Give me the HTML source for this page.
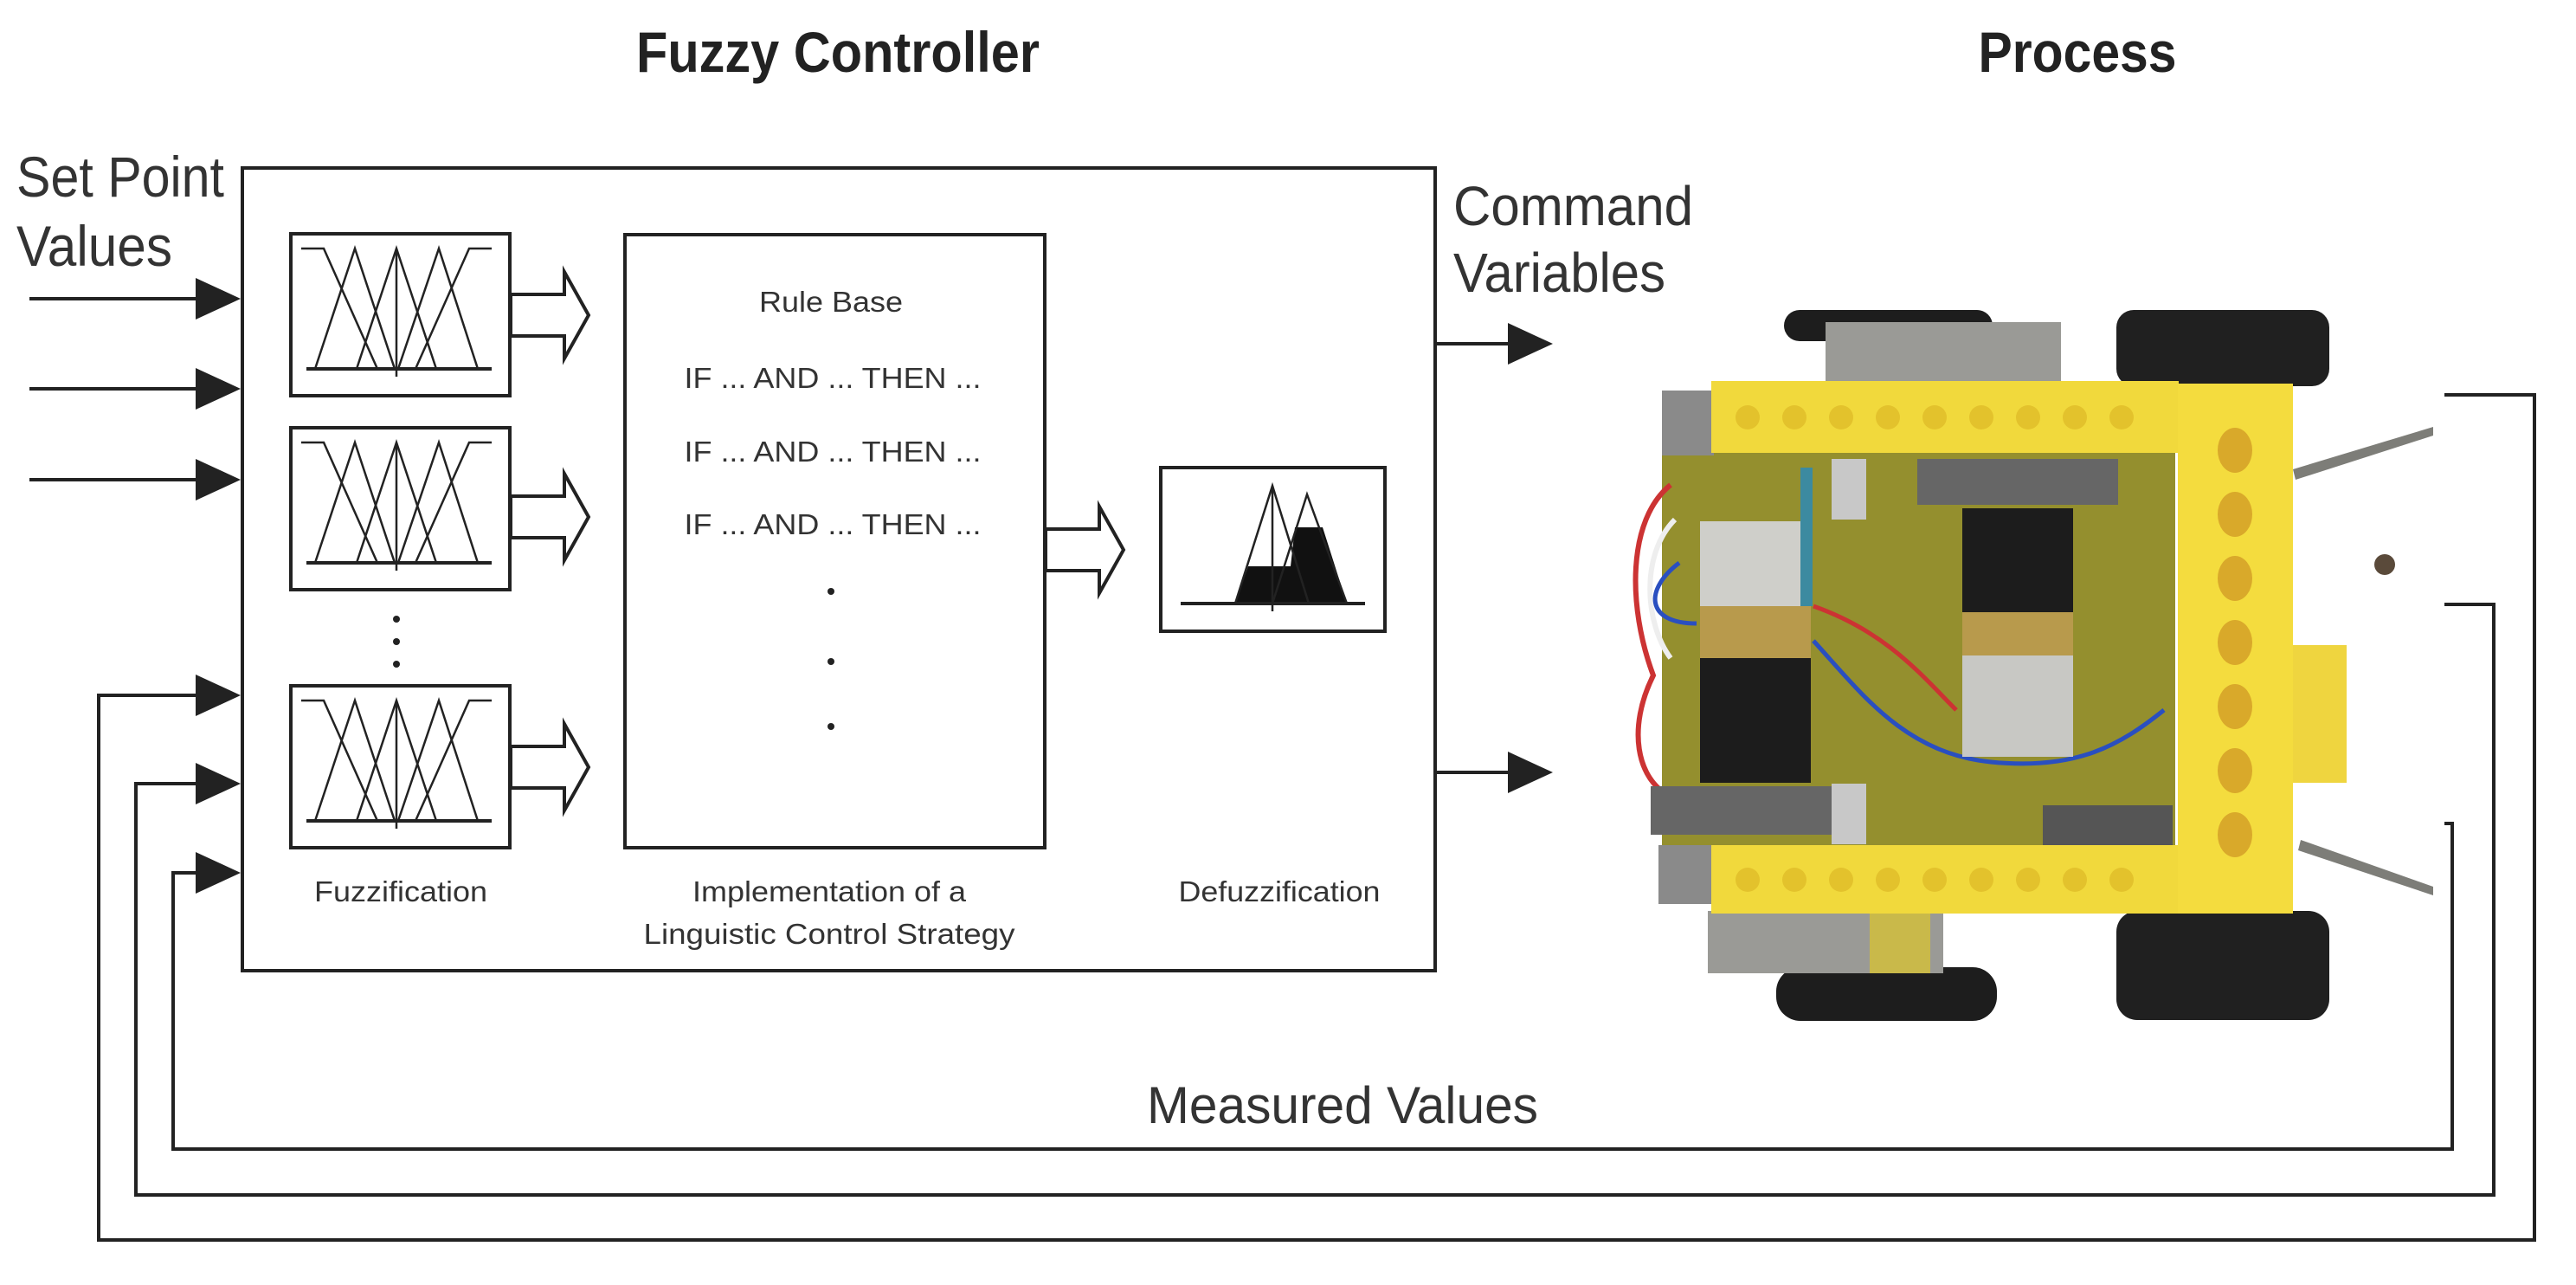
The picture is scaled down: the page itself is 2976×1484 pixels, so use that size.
<!DOCTYPE html>
<html><head><meta charset="utf-8"><style>html,body{margin:0;padding:0;background:#fff}svg{display:block}</style></head>
<body>
<svg width="2976" height="1484" viewBox="0 0 2976 1484" xmlns="http://www.w3.org/2000/svg" font-family="Liberation Sans, sans-serif">
<defs>
<g id="mf">
<rect x="0" y="0" width="253" height="187" fill="#fff" stroke="#222" stroke-width="4"/>
<g fill="none" stroke="#222" stroke-width="2.5">
<line x1="18" y1="156" x2="232" y2="156" stroke-width="4"/>
<polyline points="12,17 38,17 100,156"/>
<polyline points="28,156 74,17 120,156"/>
<polyline points="76,156 122,17 168,156"/>
<polyline points="124,156 171,17 216,156"/>
<polyline points="144,156 206,17 232,17"/>
<line x1="122" y1="17" x2="122" y2="165"/>
</g>
</g>
<g id="harrow"><polygon points="0,-24 62,-24 62,-50 90,0 62,50 62,24 0,24" fill="#fff" stroke="#222" stroke-width="4"/></g>
</defs>

<text x="968" y="83" font-size="66" font-weight="bold" text-anchor="middle" fill="#222" textLength="466" lengthAdjust="spacingAndGlyphs">Fuzzy Controller</text>
<text x="2400" y="83" font-size="66" font-weight="bold" text-anchor="middle" fill="#222" textLength="229" lengthAdjust="spacingAndGlyphs">Process</text>

<text x="19" y="227" font-size="66" fill="#333" textLength="240" lengthAdjust="spacingAndGlyphs">Set Point</text>
<text x="19" y="307" font-size="66" fill="#333" textLength="180" lengthAdjust="spacingAndGlyphs">Values</text>
<text x="1679" y="260" font-size="64" fill="#333" textLength="277" lengthAdjust="spacingAndGlyphs">Command</text>
<text x="1679" y="337" font-size="64" fill="#333" textLength="245" lengthAdjust="spacingAndGlyphs">Variables</text>

<rect x="280" y="194" width="1378" height="927" fill="none" stroke="#222" stroke-width="4"/>

<g stroke="#222" stroke-width="4" fill="#222">
<line x1="34" y1="345" x2="235" y2="345"/><polygon points="226,321 278,345 226,369" stroke="none"/>
<line x1="34" y1="449" x2="235" y2="449"/><polygon points="226,425 278,449 226,473" stroke="none"/>
<line x1="34" y1="554" x2="235" y2="554"/><polygon points="226,530 278,554 226,578" stroke="none"/>
<polyline points="240,803 114,803 114,1432 2928,1432 2928,456 2824,456" fill="none"/><polygon points="226,779 278,803 226,827" stroke="none"/>
<polyline points="240,905 157,905 157,1380 2881,1380 2881,698 2824,698" fill="none"/><polygon points="226,881 278,905 226,929" stroke="none"/>
<polyline points="240,1008 200,1008 200,1327 2833,1327 2833,951 2824,951" fill="none"/><polygon points="226,984 278,1008 226,1032" stroke="none"/>
<line x1="1658" y1="397" x2="1750" y2="397"/><polygon points="1742,373 1794,397 1742,421" stroke="none"/>
<line x1="1658" y1="892" x2="1750" y2="892"/><polygon points="1742,868 1794,892 1742,916" stroke="none"/>
</g>

<use href="#mf" x="336" y="270"/>
<use href="#mf" x="336" y="494"/>
<use href="#mf" x="336" y="792"/>
<g fill="#222"><circle cx="458" cy="715" r="4"/><circle cx="458" cy="741" r="4"/><circle cx="458" cy="767" r="4"/></g>

<use href="#harrow" x="590" y="364"/>
<use href="#harrow" x="590" y="597"/>
<use href="#harrow" x="590" y="886"/>
<use href="#harrow" x="1208" y="635"/>

<rect x="722" y="271" width="485" height="708" fill="#fff" stroke="#222" stroke-width="4"/>
<g fill="#333" font-size="33" text-anchor="middle">
<text x="960" y="360" textLength="166" lengthAdjust="spacingAndGlyphs">Rule Base</text>
<text x="962" y="448" textLength="343" lengthAdjust="spacingAndGlyphs">IF ... AND ... THEN ...</text>
<text x="962" y="533" textLength="343" lengthAdjust="spacingAndGlyphs">IF ... AND ... THEN ...</text>
<text x="962" y="617" textLength="343" lengthAdjust="spacingAndGlyphs">IF ... AND ... THEN ...</text>
</g>
<g fill="#222"><circle cx="960" cy="683" r="4"/><circle cx="960" cy="764" r="4"/><circle cx="960" cy="839" r="4"/></g>

<rect x="1341" y="540" width="259" height="189" fill="#fff" stroke="#222" stroke-width="4"/>
<polygon points="1427,697 1442,654 1491,654 1496,609 1528,609 1556,697" fill="#111"/>
<g fill="none" stroke="#222" stroke-width="2.5">
<polyline points="1427,697 1470,561 1512,697"/>
<polyline points="1470,697 1510,571 1556,697"/>
<line x1="1470" y1="561" x2="1470" y2="706"/>
<line x1="1364" y1="697" x2="1577" y2="697" stroke-width="4"/>
</g>

<g fill="#333" font-size="33" text-anchor="middle">
<text x="463" y="1041" textLength="200" lengthAdjust="spacingAndGlyphs">Fuzzification</text>
<text x="958" y="1041" textLength="316" lengthAdjust="spacingAndGlyphs">Implementation of a</text>
<text x="958" y="1090" textLength="429" lengthAdjust="spacingAndGlyphs">Linguistic Control Strategy</text>
<text x="1478" y="1041" textLength="233" lengthAdjust="spacingAndGlyphs">Defuzzification</text>
</g>
<text x="1551" y="1297" font-size="60" fill="#333" text-anchor="middle" textLength="452" lengthAdjust="spacingAndGlyphs">Measured Values</text>

<g>
<rect x="2061" y="358" width="241" height="36" rx="18" fill="#1d1d1d"/>
<rect x="2445" y="358" width="246" height="88" rx="20" fill="#202020"/>
<rect x="2109" y="372" width="272" height="72" fill="#9a9a96"/>
<rect x="2052" y="1117" width="255" height="62" rx="28" fill="#1d1d1d"/>
<rect x="2445" y="1052" width="246" height="126" rx="24" fill="#202020"/>
<rect x="1973" y="1052" width="272" height="72" fill="#9a9a96"/>
<rect x="2160" y="1050" width="70" height="74" fill="#c9b94a"/>
<polygon points="2649,542 2811,493 2811,503 2652,554" fill="#7d7d78"/>
<polygon points="2658,970 2811,1024 2811,1034 2655,982" fill="#7d7d78"/>
<rect x="1920" y="519" width="593" height="461" fill="#948f2e"/>
<rect x="1920" y="451" width="60" height="75" fill="#8a8a8a"/>
<rect x="1916" y="976" width="62" height="68" fill="#8a8a8a"/>
<path d="M1930,560 C1880,600 1880,700 1910,780 C1880,840 1890,900 1930,920" stroke="#c33" stroke-width="6" fill="none"/>
<path d="M1935,600 C1895,640 1900,720 1930,760" stroke="#eee" stroke-width="6" fill="none"/>
<path d="M1940,650 C1900,680 1900,720 1960,720" stroke="#2a4fc0" stroke-width="5" fill="none"/>
<path d="M2095,700 C2180,730 2220,780 2260,820" stroke="#c33" stroke-width="5" fill="none"/>
<path d="M2095,740 C2150,800 2200,870 2300,880 C2400,890 2450,860 2500,820" stroke="#2a4fc0" stroke-width="5" fill="none"/>
<rect x="1964" y="602" width="128" height="98" fill="#cfcfca"/>
<rect x="1964" y="700" width="128" height="60" fill="#b89a4c"/>
<rect x="1964" y="760" width="128" height="144" fill="#1c1c1c"/>
<rect x="2267" y="587" width="128" height="120" fill="#1c1c1c"/>
<rect x="2267" y="707" width="128" height="50" fill="#b89a4c"/>
<rect x="2267" y="757" width="128" height="117" fill="#c8c8c4"/>
<rect x="2215" y="530" width="232" height="53" fill="#666"/>
<rect x="1907" y="908" width="233" height="56" fill="#666"/>
<rect x="2360" y="930" width="150" height="46" fill="#555"/>
<rect x="2116" y="530" width="40" height="70" fill="#c8c8c8"/>
<rect x="2116" y="905" width="40" height="70" fill="#c8c8c8"/>
<rect x="2080" y="540" width="14" height="160" fill="#3c8aa0"/>
<rect x="1977" y="440" width="540" height="83" fill="#f1d93c"/>
<rect x="1977" y="976" width="540" height="79" fill="#f1d93c"/>
<rect x="2649" y="745" width="62" height="159" fill="#efd53f"/>
<rect x="2516" y="443" width="133" height="612" fill="#f4dc3e"/>
<g fill="#e3c22c">
<circle cx="2019" cy="482" r="14"/><circle cx="2073" cy="482" r="14"/><circle cx="2127" cy="482" r="14"/><circle cx="2181" cy="482" r="14"/><circle cx="2235" cy="482" r="14"/><circle cx="2289" cy="482" r="14"/><circle cx="2343" cy="482" r="14"/><circle cx="2397" cy="482" r="14"/><circle cx="2451" cy="482" r="14"/>
<circle cx="2019" cy="1016" r="14"/><circle cx="2073" cy="1016" r="14"/><circle cx="2127" cy="1016" r="14"/><circle cx="2181" cy="1016" r="14"/><circle cx="2235" cy="1016" r="14"/><circle cx="2289" cy="1016" r="14"/><circle cx="2343" cy="1016" r="14"/><circle cx="2397" cy="1016" r="14"/><circle cx="2451" cy="1016" r="14"/>
</g>
<g fill="#d9a92a">
<ellipse cx="2582" cy="520" rx="20" ry="26"/><ellipse cx="2582" cy="594" rx="20" ry="26"/><ellipse cx="2582" cy="668" rx="20" ry="26"/><ellipse cx="2582" cy="742" rx="20" ry="26"/><ellipse cx="2582" cy="816" rx="20" ry="26"/><ellipse cx="2582" cy="890" rx="20" ry="26"/><ellipse cx="2582" cy="964" rx="20" ry="26"/>
</g>
<circle cx="2755" cy="652" r="12" fill="#5a4a3a"/>
</g>
</svg>
</body></html>
